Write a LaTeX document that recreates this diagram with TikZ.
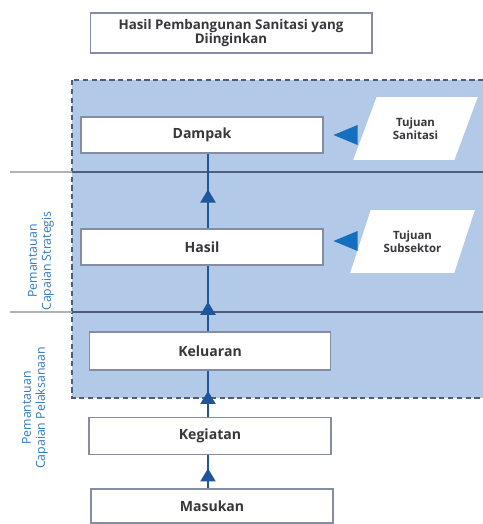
\documentclass[tikz,border=0pt]{standalone}
\usepackage{fontspec}
\setmainfont{Open Sans}
\usetikzlibrary{shapes.geometric,arrows.meta,decorations.markings,calc}
\definecolor{areablue}{RGB}{178,201,232}
\definecolor{linegrey}{RGB}{80,92,125}
\definecolor{arrowblue}{RGB}{30,85,155}
\definecolor{tipblue}{RGB}{22,110,190}
\definecolor{labelblue}{RGB}{45,120,190}
\definecolor{textgrey}{RGB}{55,55,60}
\tikzset{
 box/.style={draw=linegrey!70, line width=0.6pt, fill=white, text=textgrey,
  minimum width=4.84cm, minimum height=0.72cm, font=\fontsize{8}{9}\selectfont\bfseries},
 goal/.style={trapezium, trapezium left angle=63, trapezium right angle=117,
  trapezium stretches=true, fill=white, minimum width=2.5cm, minimum height=1.26cm,
  align=center, text=textgrey, font=\fontsize{6.5}{7.5}\selectfont\bfseries},
 side/.style={rotate=90, align=center, text=labelblue, font=\fontsize{7}{8}\selectfont},
 flow/.style={arrowblue, line width=1.2pt, postaction={decorate},
  decoration={markings, mark=at position #1 with {\arrow{Triangle[width=0.3cm,length=0.26cm]}}}}
}
\begin{document}
\begin{tikzpicture}[x=0.02cm, y=-0.02cm]
 \useasboundingbox (0,0) rectangle (483,524);
 % monitoring area
 \draw [fill=areablue, draw=linegrey, densely dashed, line width=0.9pt] (72,80) rectangle (500,398);
 \draw [gray!60, line width=0.8pt] (10,172) -- (72,172);
 \draw [gray!60, line width=0.8pt] (10,312) -- (72,312);
 \draw [linegrey, line width=0.8pt] (72,172) -- (483,172);
 \draw [linegrey, line width=0.8pt] (72,312) -- (483,312);
 \coordinate (spine) at (208,0);
 % boxes
 \node [box, minimum width=5.64cm, minimum height=0.8cm, align=center,
  font=\fontsize{7.6}{8.4}\selectfont\bfseries] (target) at (231,33) {Hasil Pembangunan Sanitasi yang\\Diinginkan};
 \node [box] (Dampak) at (202,135) {Dampak};
 \node [box] (Hasil) at (202,247) {Hasil};
 \node [box, minimum width=4.82cm, minimum height=0.76cm] (Keluaran) at (210,351) {Keluaran};
 \node [box, minimum height=0.74cm] (Kegiatan) at (210,436) {Kegiatan};
 \node [box, minimum height=0.68cm] (Masukan) at (212,506) {Masukan};
 % goals
 \node [goal] (tsan) at (415.5,128.5) {Tujuan\\Sanitasi};
 \node [goal] (tsub) at (412.5,241.5) {Tujuan\\Subsektor};
 \fill [tipblue] ($(Dampak.east)+(10,0)$) -- ++(24,-10) -- ++(0,20) -- cycle;
 \fill [tipblue] ($(Hasil.east)+(10,-6)$) -- ++(24,-10) -- ++(0,20) -- cycle;
 % flow
 \draw [flow=0.52] (Hasil.north -| spine) -- (Dampak.south -| spine);
 \draw [flow=0.45] (Keluaran.north -| spine) -- (Hasil.south -| spine);
 \draw [flow=0.56] (Kegiatan.north -| spine) -- (Keluaran.south -| spine);
 \draw [flow=0.6] (Masukan.north -| spine) -- (Kegiatan.south -| spine);
 % side labels
 \node [side] (strat) at (41,261) {Pemantauan\\Capaian Strategis};
 \node [side] (laks) at (35,408) {Pemantauan\\Capaian Pelaksanaan};
\end{tikzpicture}
\end{document}
